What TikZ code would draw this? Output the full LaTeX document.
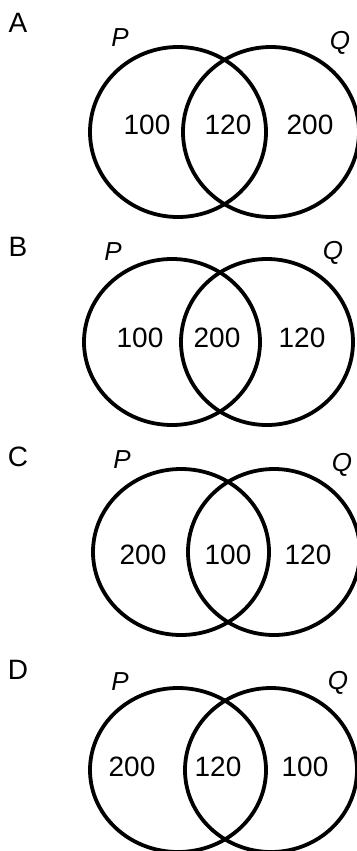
\documentclass[tikz,border=0pt]{standalone}
\usepackage{fontspec}
\setmainfont{Liberation Sans}
\usepackage{tikz}
\tikzset{
  ring/.style={draw,line width=3.8pt},
  opt/.style={font=\fontsize{28}{30}\selectfont,inner sep=0pt},
  set/.style={font=\fontsize{26}{28}\selectfont\itshape,inner sep=0pt},
  num/.style={font=\fontsize{28}{30}\selectfont,inner sep=0pt}
}
\begin{document}
\begin{tikzpicture}[x=1pt,y=-1pt]
\useasboundingbox (0,0) rectangle (356,851);
% A
\node[opt](optA)at(18,23){A};
\node[set](pA)at(120,38){P};
\node[set](qA)at(340,43){Q};
\draw[ring](178,132)ellipse[x radius=88,y radius=85];
\draw[ring](271,132)ellipse[x radius=88,y radius=85];
\node[num](a1)at(147,125){100};\node[num](a2)at(228,125){120};\node[num](a3)at(310,125){200};
% B
\node[opt](optB)at(18,247){B};
\node[set](pB)at(113,252){P};
\node[set](qB)at(333,253){Q};
\draw[ring](172,342)ellipse[x radius=88,y radius=83];
\draw[ring](267,342)ellipse[x radius=86,y radius=83];
\node[num](b1)at(140,338){100};\node[num](b2)at(217,338){200};\node[num](b3)at(302,338){120};
% C
\node[opt](optC)at(18,457){C};
\node[set](pC)at(122,460){P};
\node[set](qC)at(342,465){Q};
\draw[ring](181,552)ellipse[x radius=88,y radius=83];
\draw[ring](274,552)ellipse[x radius=86,y radius=83];
\node[num](c1)at(143,555){200};\node[num](c2)at(228,555){100};\node[num](c3)at(308,555){120};
% D
\node[opt](optD)at(18,670){D};
\node[set](pD)at(120,682){P};
\node[set](qD)at(338,683){Q};
\draw[ring](178,770)ellipse[x radius=88,y radius=82];
\draw[ring](271,770)ellipse[x radius=86,y radius=82];
\node[num](d1)at(132,767){200};\node[num](d2)at(218,767){120};\node[num](d3)at(305,767){100};
\end{tikzpicture}
\end{document}
